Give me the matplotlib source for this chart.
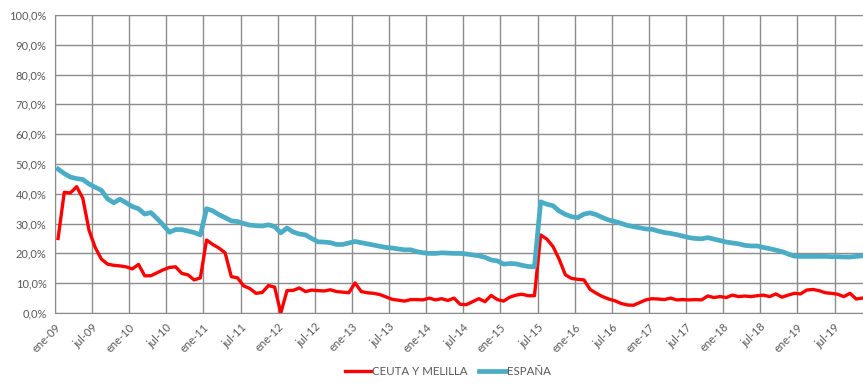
import matplotlib.pyplot as plt
import numpy as np

ceuta_melilla = [
    25.0, 40.5, 40.3, 42.4, 38.5, 27.8, 22.0, 18.1, 16.4, 16.0, 15.8, 15.5,
    14.8, 16.3, 12.5, 12.5, 13.5, 14.5, 15.3, 15.5, 13.3, 12.8, 11.1, 11.8,
    24.5, 23.0, 21.8, 20.2, 12.2, 11.8, 9.1, 8.2, 6.6, 6.9, 9.2, 8.7,
    0.0, 7.5, 7.6, 8.4, 7.2, 7.7, 7.5, 7.4, 7.8, 7.2, 7.0, 6.8,
    10.1, 7.2, 6.8, 6.6, 6.2, 5.4, 4.6, 4.3, 4.0, 4.5, 4.5, 4.4,
    5.0, 4.4, 4.8, 4.2, 5.0, 2.9, 2.8, 3.8, 4.8, 3.8, 5.9, 4.5,
    4.0, 5.3, 6.0, 6.3, 5.8, 5.8, 26.2, 24.8, 22.3, 18.0, 12.8, 11.6,
    11.3, 11.1, 7.9, 6.6, 5.5, 4.7, 4.1, 3.2, 2.7, 2.6, 3.5, 4.4,
    4.8, 4.7, 4.5, 5.0, 4.4, 4.5, 4.4, 4.5, 4.4, 5.7, 5.2, 5.5,
    5.2, 6.0, 5.5, 5.7, 5.5, 5.8, 6.0, 5.5, 6.4, 5.3, 6.0, 6.6,
    6.4, 7.7, 7.9, 7.5, 6.8, 6.6, 6.3, 5.5, 6.6, 4.7, 5.0,
]
espana = [
    48.3, 46.8, 45.6, 45.1, 44.8, 43.3, 42.2, 41.2, 38.3, 37.0, 38.2, 37.0,
    35.7, 35.0, 33.2, 33.7, 31.7, 29.5, 27.1, 28.0, 28.0, 27.5, 27.0, 26.2,
    35.0, 34.3, 33.0, 32.0, 30.9, 30.7, 30.0, 29.5, 29.3, 29.2, 29.6, 29.0,
    26.9, 28.5, 27.2, 26.5, 26.2, 25.0, 23.9, 23.8, 23.6, 23.0, 23.0, 23.5,
    24.0, 23.6, 23.2, 22.8, 22.4, 22.0, 21.8, 21.5, 21.2, 21.2, 20.6, 20.2,
    20.0, 20.0, 20.2, 20.1, 20.0, 20.0, 19.8, 19.5, 19.2, 18.7, 17.8, 17.5,
    16.4, 16.6, 16.5, 16.0, 15.6, 15.5, 37.3, 36.5, 36.0, 34.2, 33.1, 32.3,
    32.0, 33.2, 33.6, 33.0, 32.0, 31.2, 30.7, 30.1, 29.4, 29.0, 28.6, 28.2,
    28.1, 27.5, 27.0, 26.7, 26.3, 25.8, 25.3, 25.0, 24.9, 25.3, 24.8, 24.3,
    23.8, 23.5, 23.2, 22.7, 22.5, 22.5, 22.0, 21.6, 21.1, 20.6, 19.8, 19.1,
    19.0, 19.0, 19.0, 19.0, 19.0, 18.9, 18.9, 18.8, 18.8, 19.0, 19.2,
]
tick_labels = [f'{m}-{y:02d}' for y in range(9, 20) for m in ('ene', 'jul')]

plt.rcParams['font.family'] = ['Lato', 'DejaVu Sans']

fig = plt.figure(figsize=(8.63, 3.85), dpi=100)
ax = fig.add_axes([0.0637, 0.187, 0.9363, 0.774])

x = np.arange(len(espana)) + 0.5
ax.plot(x, ceuta_melilla, color='#FF0000', lw=2.4, label='CEUTA Y MELILLA',
        solid_joinstyle='round', zorder=3)
ax.plot(x, espana, color='#4BACC6', lw=3.4, label='ESPAÑA',
        solid_joinstyle='round', zorder=3)

ax.set_xlim(0, 130.6)
ax.set_ylim(0, 100)
ax.set_xticks(np.arange(0, 6 * len(tick_labels), 6))
ax.set_xticklabels(tick_labels, rotation=45, ha='right', rotation_mode='anchor')
ax.set_yticks(range(0, 101, 10))
ax.set_yticklabels([f'{v},0%' for v in range(0, 101, 10)])
ax.tick_params(length=0, labelsize=8, colors='#595959', pad=6)
ax.grid(True, color='#8C8C8C', lw=1)
for s in ax.spines.values():
    s.set_color('#8C8C8C')
ax.spines['right'].set_visible(False)

fig.legend(loc='lower center', ncol=2, frameon=False, fontsize=8.3,
           bbox_to_anchor=(0.519, -0.005), handlelength=2.3, handletextpad=0.1,
           columnspacing=1.0, labelcolor='#595959')

fig.savefig('out.png', dpi=100)
